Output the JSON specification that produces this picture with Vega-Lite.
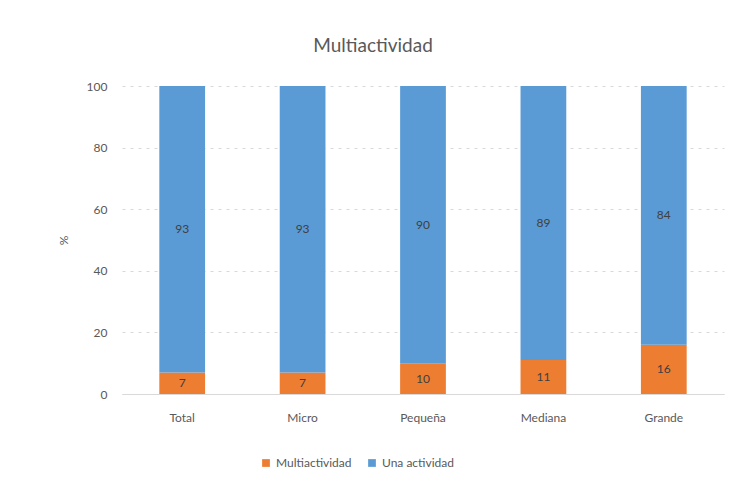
{
  "$schema": "https://vega.github.io/schema/vega-lite/v6.json",
  "width": 602,
  "height": 308,
  "autosize": {"type": "none"},
  "padding": {"left": 122, "top": 86, "right": 5, "bottom": 87},
  "background": "white",
  "config": {"view": {"stroke": null}},
  "title": {
    "text": "Multiactividad",
    "font": "Lato",
    "fontSize": 19,
    "fontWeight": "normal",
    "color": "#595959",
    "anchor": "middle",
    "dx": -50,
    "offset": 24
  },
  "data": {
    "values": [
      {"tamano": "Total", "tipo": "Multiactividad", "valor": 7},
      {"tamano": "Total", "tipo": "Una actividad", "valor": 93},
      {"tamano": "Micro", "tipo": "Multiactividad", "valor": 7},
      {"tamano": "Micro", "tipo": "Una actividad", "valor": 93},
      {"tamano": "Pequeña", "tipo": "Multiactividad", "valor": 10},
      {"tamano": "Pequeña", "tipo": "Una actividad", "valor": 90},
      {"tamano": "Mediana", "tipo": "Multiactividad", "valor": 11},
      {"tamano": "Mediana", "tipo": "Una actividad", "valor": 89},
      {"tamano": "Grande", "tipo": "Multiactividad", "valor": 16},
      {"tamano": "Grande", "tipo": "Una actividad", "valor": 84}
    ]
  },
  "transform": [
    {"stack": "valor", "groupby": ["tamano"], "sort": [{"field": "tipo", "order": "ascending"}], "as": ["v0", "v1"]},
    {"calculate": "(datum.v0 + datum.v1) / 2", "as": "mid"}
  ],
  "encoding": {
    "x": {
      "field": "tamano",
      "type": "nominal",
      "sort": ["Total", "Micro", "Pequeña", "Mediana", "Grande"],
      "scale": {"paddingInner": 0.62, "paddingOuter": 0.31},
      "axis": {
        "title": null,
        "labelAngle": 0,
        "labelFont": "Lato",
        "labelFontSize": 12,
        "labelColor": "#595959",
        "labelPadding": 18,
        "ticks": false,
        "domainColor": "#d9d9d9",
        "domainWidth": 1
      }
    }
  },
  "layer": [
    {
      "mark": {"type": "bar"},
      "encoding": {
        "y": {
          "field": "v0",
          "type": "quantitative",
          "scale": {"domain": [0, 100]},
          "axis": {
            "title": "%",
            "titleFont": "Lato",
            "titleFontSize": 12,
            "titleFontWeight": "normal",
            "titleColor": "#595959",
            "titlePadding": 16,
            "values": [0, 20, 40, 60, 80, 100],
            "labelFont": "Lato",
            "labelFontSize": 12,
            "labelColor": "#595959",
            "labelPadding": 15,
            "ticks": false,
            "domain": false,
            "grid": true,
            "gridColor": "#d9d9d9",
            "gridDash": [3, 5],
            "gridWidth": 1
          }
        },
        "y2": {"field": "v1"},
        "color": {
          "field": "tipo",
          "type": "nominal",
          "scale": {"domain": ["Multiactividad", "Una actividad"], "range": ["#ED7D31", "#5B9BD5"]},
          "legend": {
            "title": null,
            "orient": "none",
            "direction": "horizontal",
            "legendX": 138,
            "legendY": 371,
            "symbolType": "square",
            "symbolSize": 60,
            "symbolStrokeWidth": 0,
            "labelFont": "Lato",
            "labelFontSize": 12,
            "labelColor": "#595959",
            "columnPadding": 14
          }
        }
      }
    },
    {
      "mark": {"type": "text", "font": "Lato", "fontSize": 12, "color": "#404040"},
      "encoding": {
        "y": {"field": "mid", "type": "quantitative"},
        "text": {"field": "valor", "type": "quantitative"}
      }
    }
  ]
}
